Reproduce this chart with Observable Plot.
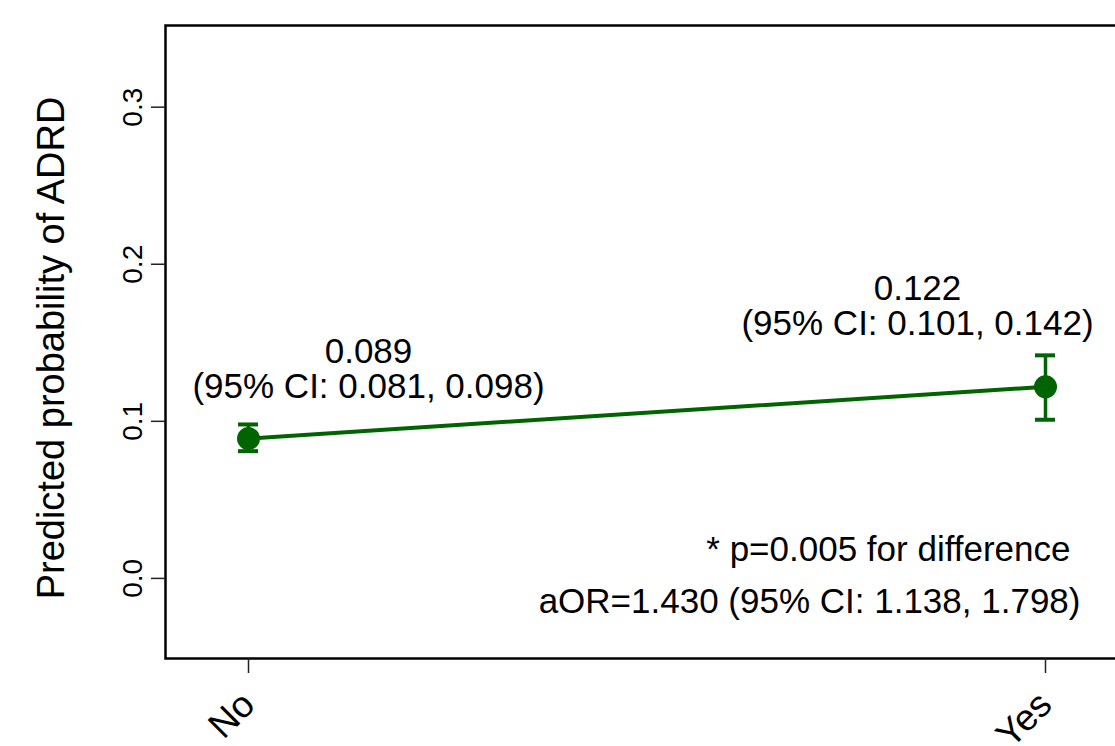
<!DOCTYPE html>
<html>
<head>
<meta charset="utf-8">
<script src="https://cdn.jsdelivr.net/npm/d3@7"></script>
<script src="https://cdn.jsdelivr.net/npm/@observablehq/plot@0.6"></script>
<style>
  html, body { margin: 0; padding: 0; background: #fff; overflow: hidden; }
  #chart svg { display: block; max-width: none !important; height: 746px !important; }
</style>
</head>
<body>
<div id="chart"></div>
<script>
const categories = ["No", "Yes"];
const estimates = [0.089, 0.122];
const ciLow = [0.081, 0.101];
const ciHigh = [0.098, 0.142];
const yTicks = [0.0, 0.1, 0.2, 0.3];
const yTitle = "Predicted probability of ADRD";
const noteLines = ["* p=0.005 for difference", "aOR=1.430 (95% CI: 1.138, 1.798)"];

const fmt = d3.format(".3f");
const data = categories.map((c, i) => ({
  cat: c, est: estimates[i], lo: ciLow[i], hi: ciHigh[i],
  label: `${fmt(estimates[i])}\n(95% CI: ${fmt(ciLow[i])}, ${fmt(ciHigh[i])})`
}));

const green = "#006400";
const font = "Liberation Sans, Arial, Helvetica, sans-serif";

const chart = Plot.plot({
  width: 1135,
  height: 746,
  marginLeft: 165,
  marginRight: 8,
  marginTop: 25,
  marginBottom: 88,
  style: { fontFamily: font, background: "#fff", color: "#000" },
  x: { type: "point", domain: categories, padding: 0.103, axis: null },
  y: { domain: [-0.051, 0.352], axis: null },
  marks: [
    Plot.frame({ stroke: "#000", strokeWidth: 2.5 }),
    Plot.axisY(yTicks, {
      anchor: "left", tickSize: 14, tickRotate: -90, tickPadding: 10,
      tickFormat: d3.format(".1f"), fontSize: 28, label: null,
      stroke: "#222", strokeWidth: 1.5
    }),
    Plot.axisX(categories, {
      anchor: "bottom", tickSize: 15, tickRotate: -45, tickPadding: 25,
      fontSize: 37, label: null, stroke: "#222", strokeWidth: 1.5
    }),
    Plot.text([yTitle], {
      frameAnchor: "left", textAnchor: "middle", rotate: -90, dx: -114, dy: 6,
      fontSize: 38, fill: "#000"
    }),
    Plot.line(data, { x: "cat", y: "est", stroke: green, strokeWidth: 4 }),
    Plot.ruleX(data, { x: "cat", y1: "lo", y2: "hi", stroke: green, strokeWidth: 3.5 }),
    Plot.ruleY(data, { x1: "cat", x2: "cat", y: "lo", insetLeft: -10, insetRight: -10, stroke: green, strokeWidth: 4 }),
    Plot.ruleY(data, { x1: "cat", x2: "cat", y: "hi", insetLeft: -10, insetRight: -10, stroke: green, strokeWidth: 4 }),
    Plot.dot(data, { x: "cat", y: "est", r: 11.5, fill: green, stroke: "none" }),
    Plot.text(data.filter(d => d.cat === "No"), {
      x: "cat", y: "est", text: "label", dx: 120, dy: -69,
      lineAnchor: "middle", fontSize: 35, fill: "#000"
    }),
    Plot.text(data.filter(d => d.cat === "Yes"), {
      x: "cat", y: "est", text: "label", dx: -128, dy: -80,
      lineAnchor: "middle", fontSize: 35, fill: "#000"
    }),
    Plot.text([noteLines[0]], {
      frameAnchor: "bottom-right", textAnchor: "end", dx: -57, dy: -98,
      fontSize: 35, fill: "#000"
    }),
    Plot.text([noteLines[1]], {
      frameAnchor: "bottom-right", textAnchor: "end", dx: -47, dy: -46,
      fontSize: 35, fill: "#000"
    })
  ]
});
document.getElementById("chart").appendChild(chart);
</script>
</body>
</html>
